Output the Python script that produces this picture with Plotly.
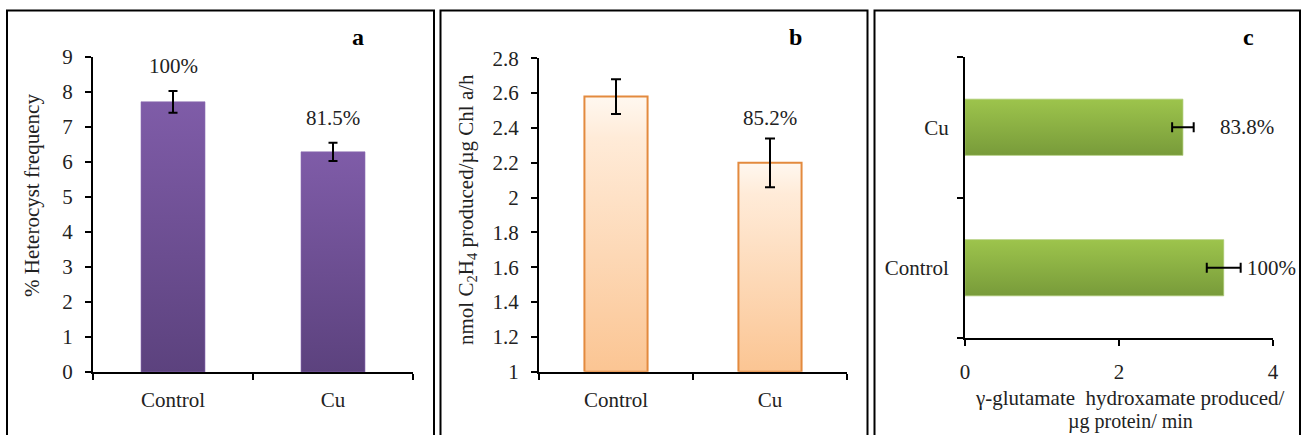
import plotly.graph_objects as go

# ---------------- data ----------------
categories = ["Control", "Cu"]

heterocyst = [7.72, 6.29]
heterocyst_err = [0.31, 0.26]
heterocyst_pct = ["100%", "81.5%"]

nitrogenase = [2.58, 2.20]
nitrogenase_err = [0.10, 0.14]
nitrogenase_pct = ["100%", "85.2%"]

gs_activity = [3.36, 2.83]
gs_err = [0.22, 0.14]
gs_pct = ["100%", "83.8%"]

a_ticks = [0, 1, 2, 3, 4, 5, 6, 7, 8, 9]
b_ticks = [1, 1.2, 1.4, 1.6, 1.8, 2, 2.2, 2.4, 2.6, 2.8]
b_ticktext = ["1", "1.2", "1.4", "1.6", "1.8", "2", "2.2", "2.4", "2.6", "2.8"]
c_ticks = [0, 2, 4]

# ---------------- layout helpers ----------------
W, H = 1303, 435
FONT = "Liberation Serif"


def px(x):
    return x / W


def py(y):
    return 1 - y / H


cat_pos = list(range(len(categories)))
boundaries = [i - 0.5 for i in range(len(categories) + 1)]

fig = go.Figure()


def vbar(i, val, base, half, xa, ya, scale, line):
    xs = [i - half, i + half, i + half, i - half, i - half]
    ys = [base, base, val, val, base]
    fig.add_trace(go.Scatter(
        x=xs, y=ys, mode="lines", fill="toself", line=line,
        fillgradient=dict(type="vertical", colorscale=scale),
        xaxis=xa, yaxis=ya, showlegend=False, hoverinfo="skip"))


def hbar(i, val, half, xa, ya, scale, line):
    xs = [0, val, val, 0, 0]
    ys = [i - half, i - half, i + half, i + half, i - half]
    fig.add_trace(go.Scatter(
        x=xs, y=ys, mode="lines", fill="toself", line=line,
        fillgradient=dict(type="vertical", colorscale=scale),
        xaxis=xa, yaxis=ya, showlegend=False, hoverinfo="skip"))


purple = [[0, "#5C427E"], [1, "#7F5CA8"]]
orange = [[0, "#FBC593"], [0.85, "#FFEBD8"], [1, "#FFF8F0"]]
green = [[0, "#789B3A"], [1, "#9DC44C"]]

# panel a
for i, v in zip(cat_pos, heterocyst):
    vbar(i, v, 0, 0.2, "x", "y", purple, dict(color="rgba(140,110,180,0.6)", width=1))
fig.add_trace(go.Scatter(
    x=cat_pos, y=heterocyst, mode="markers", marker=dict(size=1, color="rgba(0,0,0,0)"),
    error_y=dict(type="data", array=heterocyst_err, color="black", thickness=2, width=4.5),
    xaxis="x", yaxis="y", showlegend=False, hoverinfo="skip"))

# panel b
for i, v in zip(cat_pos, nitrogenase):
    vbar(i, v, 1, 0.205, "x2", "y2", orange, dict(color="#E38A3E", width=2))
fig.add_trace(go.Scatter(
    x=cat_pos, y=nitrogenase, mode="markers", marker=dict(size=1, color="rgba(0,0,0,0)"),
    error_y=dict(type="data", array=nitrogenase_err, color="black", thickness=2, width=5),
    xaxis="x2", yaxis="y2", showlegend=False, hoverinfo="skip"))

# panel c
for i, v in zip(cat_pos, gs_activity):
    hbar(i, v, 0.2, "x3", "y3", green, dict(color="rgba(170,200,110,0.7)", width=1))
fig.add_trace(go.Scatter(
    x=gs_activity, y=cat_pos, mode="markers", marker=dict(size=1, color="rgba(0,0,0,0)"),
    error_x=dict(type="data", array=gs_err, color="black", thickness=2, width=5),
    xaxis="x3", yaxis="y3", showlegend=False, hoverinfo="skip"))

tickfont = dict(family=FONT, size=21, color="#222")
axis_common = dict(showline=True, linecolor="black", linewidth=2, ticks="outside",
                   tickcolor="black", tickwidth=2, ticklen=6, showgrid=False,
                   zeroline=False, tickfont=tickfont, fixedrange=True, automargin=False)
cat_axis = dict(axis_common, ticks="", range=[-0.5, 1.5], tickvals=cat_pos,
                ticktext=categories,
                minor=dict(tickvals=boundaries, ticks="outside", ticklen=6,
                           tickwidth=2, tickcolor="black", showgrid=False))

fig.update_layout(
    width=W, height=H, margin=dict(l=0, r=0, t=0, b=0, pad=0), autosize=False,
    paper_bgcolor="white", plot_bgcolor="white",
    xaxis=dict(cat_axis, domain=[px(93), px(413)], anchor="y", ticklabelstandoff=8),
    yaxis=dict(axis_common, domain=[py(372), py(57)], anchor="x", range=[0, 9],
               tickvals=a_ticks, ticklabelstandoff=8),
    xaxis2=dict(cat_axis, domain=[px(539), px(847)], anchor="y2", ticklabelstandoff=8),
    yaxis2=dict(axis_common, domain=[py(371.7), py(58.3)], anchor="x2", range=[1, 2.8],
                tickvals=b_ticks, ticktext=b_ticktext, ticklabelstandoff=8),
    xaxis3=dict(axis_common, domain=[px(965), px(1273)], anchor="y3", range=[0, 4],
                tickvals=c_ticks, ticklabelstandoff=8),
    yaxis3=dict(cat_axis, domain=[py(338), py(57)], anchor="x3", ticklabelstandoff=10),
)

ann_font = dict(family=FONT, size=21, color="#222")

# percent labels
for i, v, e, t in zip(cat_pos, heterocyst, heterocyst_err, heterocyst_pct):
    fig.add_annotation(x=i, y=v + e + 0.7, xref="x", yref="y", text=t,
                       showarrow=False, font=ann_font, xanchor="center", yanchor="middle")
for i, v, e, t in zip(cat_pos, nitrogenase, nitrogenase_err, nitrogenase_pct):
    fig.add_annotation(x=i, y=v + e + 0.12, xref="x2", yref="y2", text=t,
                       showarrow=False, font=ann_font, xanchor="center", yanchor="middle")
for i, v, e, t, sh in zip(cat_pos, gs_activity, gs_err, gs_pct, [4, 24]):
    fig.add_annotation(x=v + e, y=i, xref="x3", yref="y3", text=t,
                       showarrow=False, font=ann_font, xanchor="left", yanchor="middle",
                       xshift=sh)

# panel letters
letter_font = dict(family=FONT, size=24, color="black")
for letter, xx in [("<b>a</b>", 358), ("<b>b</b>", 795), ("<b>c</b>", 1248)]:
    fig.add_annotation(x=px(xx), y=py(37), xref="paper", yref="paper", text=letter,
                       showarrow=False, font=letter_font, xanchor="center", yanchor="middle")

# axis titles
fig.add_annotation(x=px(32), y=py(196), xref="paper", yref="paper",
                   text="% Heterocyst frequency", textangle=-90, showarrow=False,
                   font=ann_font, xanchor="center", yanchor="middle")
fig.add_annotation(x=px(467), y=py(210), xref="paper", yref="paper",
                   text="nmol C<sub>2</sub>H<sub>4</sub> produced/µg Chl a/h", textangle=-90,
                   showarrow=False, font=ann_font, xanchor="center", yanchor="middle")
fig.add_annotation(x=px(1130), y=py(398), xref="paper", yref="paper",
                   text="γ-glutamate&nbsp; hydroxamate produced/", showarrow=False,
                   font=dict(family=FONT, size=21, color="#222"), xanchor="center", yanchor="middle")
fig.add_annotation(x=px(1130), y=py(421), xref="paper", yref="paper",
                   text="µg protein/ min", showarrow=False,
                   font=dict(family=FONT, size=20, color="#222"), xanchor="center", yanchor="middle")

# panel frames
for x0, x1 in [(7, 434), (440.5, 867.5), (874.5, 1300)]:
    fig.add_shape(type="rect", xref="paper", yref="paper",
                  x0=px(x0), x1=px(x1), y0=-0.1, y1=py(10.5),
                  line=dict(color="black", width=2), fillcolor="rgba(0,0,0,0)", layer="above")

fig.write_html("out.html", config={"responsive": False, "displayModeBar": False},
               post_script="document.body.style.margin='0';document.body.style.overflow='hidden';")
